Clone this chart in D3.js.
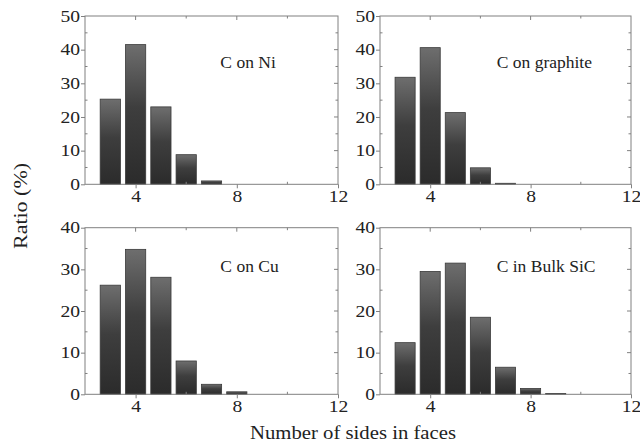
<!DOCTYPE html>
<html>
<head>
<meta charset="utf-8">
<script src="https://cdn.jsdelivr.net/npm/d3@7"></script>
<style>
  html, body { margin: 0; padding: 0; background: #fff; }
  svg { display: block; }
  text { font-family: "Liberation Serif", "Times New Roman", serif; fill: #222; }
</style>
</head>
<body>
<svg id="chart" width="640" height="443"></svg>
<script>
// Face-side distributions (number of sides -> ratio in %)
const sides = [3, 4, 5, 6, 7, 8, 9];
const ratioNi       = [25.3, 41.5, 23.0, 8.8, 1.0, 0, 0];
const ratioGraphite = [31.8, 40.6, 21.3, 4.9, 0.3, 0, 0];
const ratioCu       = [26.2, 34.8, 28.1, 8.0, 2.4, 0.6, 0];
const ratioSiC      = [12.4, 29.5, 31.5, 18.5, 6.5, 1.4, 0.2];

const panelNames = ["C on Ni", "C on graphite", "C on Cu", "C in Bulk SiC"];
const panelSeries = [ratioNi, ratioGraphite, ratioCu, ratioSiC];
const panelYMax = [50, 50, 40, 40];
const xDomain = [2, 12];
const xTickLabels = [4, 8, 12];

const svg = d3.select("#chart");

const defs = svg.append("defs");
const grad = defs.append("linearGradient")
  .attr("id", "barGrad")
  .attr("x1", 0).attr("y1", 0).attr("x2", 0).attr("y2", 1);
grad.append("stop").attr("offset", "0%").attr("stop-color", "#6e6e6e");
grad.append("stop").attr("offset", "45%").attr("stop-color", "#3e3e3e");
grad.append("stop").attr("offset", "100%").attr("stop-color", "#2b2b2b");

// Panel boxes: [left, right, top, bottom]
const boxes = [
  [85, 338, 16, 184.3],
  [380, 631, 16, 184.3],
  [85, 338, 227.7, 394.3],
  [380, 631, 227.7, 394.3]
];

const frameColor = "#808080";
const digitWidth = 9.8;

function styleTickText(sel) {
  sel.selectAll("text")
    .attr("font-size", 16)
    .attr("fill", "#222")
    .style("font-family", '"Liberation Serif", serif')
    .attr("lengthAdjust", "spacingAndGlyphs")
    .attr("textLength", function () { return this.textContent.length * digitWidth; });
}

panelSeries.forEach((vals, i) => {
  const [l, r, t, b] = boxes[i];
  const x = d3.scaleLinear().domain(xDomain).range([l, r]);
  const y = d3.scaleLinear().domain([0, panelYMax[i]]).range([b, t]);
  const g = svg.append("g");

  const bw = x(2.8) - x(2);
  g.selectAll("rect.bar")
    .data(sides.map((s, k) => ({ s, v: vals[k] })).filter(d => d.v > 0))
    .join("rect")
    .attr("class", "bar")
    .attr("x", d => x(d.s) - bw / 2)
    .attr("width", bw)
    .attr("y", d => y(d.v))
    .attr("height", d => y(0) - y(d.v))
    .attr("fill", "url(#barGrad)")
    .attr("stroke", "#3a3a3a")
    .attr("stroke-width", 0.8);

  // frame
  g.append("rect")
    .attr("x", l).attr("y", t)
    .attr("width", r - l).attr("height", b - t)
    .attr("fill", "none")
    .attr("stroke", frameColor)
    .attr("stroke-width", 1);

  // bottom axis
  const xAxis = g.append("g")
    .attr("transform", `translate(0,${b})`)
    .call(d3.axisBottom(x).tickValues(xTickLabels).tickSize(4).tickPadding(2).tickFormat(d3.format("d")));
  xAxis.select(".domain").remove();
  xAxis.selectAll("line").attr("stroke", frameColor);
  styleTickText(xAxis);

  // left axis
  const yAxis = g.append("g")
    .attr("transform", `translate(${l},0)`)
    .call(d3.axisLeft(y).ticks(panelYMax[i] / 10).tickSize(4).tickPadding(1).tickFormat(d3.format("d")));
  yAxis.select(".domain").remove();
  yAxis.selectAll("line").attr("stroke", frameColor);
  styleTickText(yAxis);

  // minor ticks and mirrored ticks on top/right
  const xMinor = [6, 10];
  const xMajor = [4, 8];
  const tick = (x1, y1, x2, y2) => g.append("line")
    .attr("x1", x1).attr("y1", y1).attr("x2", x2).attr("y2", y2)
    .attr("stroke", frameColor).attr("stroke-width", 1);
  xMinor.forEach(v => { tick(x(v), b, x(v), b - 2.5); tick(x(v), t, x(v), t + 2.5); });
  xMajor.forEach(v => { tick(x(v), t, x(v), t + 4); });
  d3.range(5, panelYMax[i], 10).forEach(v => {
    tick(l, y(v), l + 2.5, y(v));
    tick(r, y(v), r - 2.5, y(v));
  });
  d3.range(10, panelYMax[i], 10).forEach(v => { tick(r, y(v), r - 4, y(v)); });

  // panel label
  g.append("text")
    .attr("x", l + (r - l) * (i % 2 === 0 ? 0.535 : 0.465))
    .attr("y", t + (i < 2 ? 51.5 : 44.5))
    .attr("font-size", 17.5)
    .text(panelNames[i]);
});

svg.append("text")
  .attr("transform", "translate(27,206) rotate(-90)")
  .attr("text-anchor", "middle")
  .attr("font-size", 18)
  .attr("lengthAdjust", "spacingAndGlyphs")
  .attr("textLength", 86)
  .text("Ratio (%)");

svg.append("text")
  .attr("x", 353)
  .attr("y", 439)
  .attr("text-anchor", "middle")
  .attr("font-size", 18)
  .attr("lengthAdjust", "spacingAndGlyphs")
  .attr("textLength", 206)
  .text("Number of sides in faces");
</script>
</body>
</html>
